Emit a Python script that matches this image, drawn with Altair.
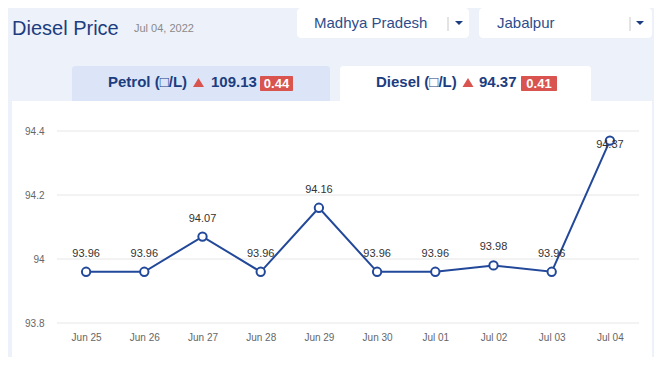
import altair as alt
import pandas as pd

# ---- data ----
dates = ["Jun 25", "Jun 26", "Jun 27", "Jun 28", "Jun 29", "Jun 30", "Jul 01", "Jul 02", "Jul 03", "Jul 04"]
prices = [93.96, 93.96, 94.07, 93.96, 94.16, 93.96, 93.96, 93.98, 93.96, 94.37]
y_ticks = [93.8, 94.0, 94.2, 94.4]

title_text = "Diesel Price"
date_text = "Jul 04, 2022"
state_text = "Madhya Pradesh"
city_text = "Jabalpur"
petrol_label = "Petrol (□/L)"
petrol_price = "109.13"
petrol_change = "0.44"
diesel_label = "Diesel (□/L)"
diesel_price = "94.37"
diesel_change = "0.41"

FONT = "Liberation Sans"
NAVY = "#1c3d80"
LINE = "#22489a"
RED = "#d9534f"
BG = "#edf1fa"

df = pd.DataFrame({"date": dates, "price": prices})
grid_df = pd.DataFrame({"v": y_ticks})
one = pd.DataFrame({"a": [0]})

yscale = alt.Scale(domain=[93.8, 94.4], nice=False, zero=False)
yaxis = alt.Axis(title=None, values=y_ticks, format=".1~f", ticks=False, domain=False,
                 grid=False, zindex=1, labelFont=FONT, labelFontSize=10, labelColor="#666",
                 labelPadding=13)
xenc = alt.X("date:O", sort=dates, scale=alt.Scale(type="point", padding=0.5),
             axis=alt.Axis(title=None, labelAngle=0, ticks=False, domain=False, grid=False, zindex=1,
                           labelFont=FONT, labelFontSize=10, labelColor="#666", labelPadding=9))
yenc = alt.Y("price:Q", scale=yscale, axis=yaxis)

DOWN = "M-1,-0.5L1,-0.5L0,0.5Z"
UP = "M-1,0.8L1,0.8L0,-0.8Z"


def rect(x, x2, y, y2, color, **kw):
    return alt.Chart(one).mark_rect(color=color, **kw).encode(
        x=alt.value(x), x2=alt.value(x2), y=alt.value(y), y2=alt.value(y2))


def text(x, y, t, **kw):
    return alt.Chart(one).mark_text(font=FONT, **kw).encode(
        x=alt.value(x), y=alt.value(y), text=alt.value(t))


def rule(x, y, y2, color):
    return alt.Chart(one).mark_rule(color=color, strokeWidth=1).encode(
        x=alt.value(x), y=alt.value(y), y2=alt.value(y2))


def tri(x, y, shape, color, size):
    return alt.Chart(one).mark_point(shape=shape, filled=True, color=color, size=size, opacity=1,
                                     strokeWidth=0).encode(x=alt.value(x), y=alt.value(y))


# decorations (plot-area pixel coords; plot origin is at page (57,131))
panel = rect(-45, 595, -30, 228, "white")
petrol_tab = rect(15, 273, -65, -30, "#dbe5f7", cornerRadiusTopLeft=3, cornerRadiusTopRight=3)
diesel_tab = rect(283, 534, -65, -30, "white", cornerRadiusTopLeft=3, cornerRadiusTopRight=3)
dd1 = rect(240, 412, -123, -93, "white", cornerRadius=4)
dd2 = rect(422, 595, -123, -93, "white", cornerRadius=4)

title = text(-45, -96, title_text, fontSize=20, color=NAVY, align="left", baseline="alphabetic")
date_lbl = text(77, -99, date_text, fontSize=11, color="#8a8a8a", align="left", baseline="alphabetic")
state = text(257, -103, state_text, fontSize=15, color="#2e4d8c", align="left", baseline="alphabetic")
city = text(440, -103, city_text, fontSize=15, color="#2e4d8c", align="left", baseline="alphabetic")
sep1 = rule(391, -114, -100, "#c8c8c8")
sep2 = rule(573, -114, -100, "#c8c8c8")
arr1 = tri(402, -108, DOWN, NAVY, 64)
arr2 = tri(583, -108, DOWN, NAVY, 64)

p_lbl = text(51, -44, petrol_label, fontSize=15, fontWeight="bold", color=NAVY, align="left", baseline="alphabetic")
p_tri = tri(141.5, -48.5, UP, RED, 121)
p_val = text(154, -44, petrol_price, fontSize=15, fontWeight="bold", color=NAVY, align="left", baseline="alphabetic")
p_badge = rect(203, 236, -55, -40, RED, cornerRadius=1)
p_chg = text(219.5, -43, petrol_change, fontSize=13, fontWeight="bold", color="white", align="center", baseline="alphabetic")

d_lbl = text(319, -44, diesel_label, fontSize=15, fontWeight="bold", color=NAVY, align="left", baseline="alphabetic")
d_tri = tri(411, -48.5, UP, RED, 121)
d_val = text(422, -44, diesel_price, fontSize=15, fontWeight="bold", color=NAVY, align="left", baseline="alphabetic")
d_badge = rect(464, 500, -55, -40, RED, cornerRadius=1)
d_chg = text(482, -43, diesel_change, fontSize=13, fontWeight="bold", color="white", align="center", baseline="alphabetic")

# data layers
grid = alt.Chart(grid_df).mark_rule(color="#e6e6e6", strokeWidth=1).encode(
    y=alt.Y("v:Q", scale=yscale, axis=yaxis),
    x=alt.value(0), x2=alt.value(582))

base = alt.Chart(df).encode(x=xenc, y=yenc)
line = base.mark_line(color=LINE, strokeWidth=2)
pts = base.mark_point(shape="circle", filled=True, fill="white", stroke=LINE, strokeWidth=2,
                      size=70, opacity=1)
labels = base.transform_filter(alt.datum.date != dates[-1]).mark_text(
    font=FONT, fontSize=11, color="#333", dy=-18, baseline="middle").encode(text=alt.Text("price:Q", format=".2f"))
last_label = base.transform_filter(alt.datum.date == dates[-1]).mark_text(
    font=FONT, fontSize=11, color="#333", dy=4, baseline="middle").encode(text=alt.Text("price:Q", format=".2f"))

chart = alt.layer(
    panel, petrol_tab, diesel_tab, dd1, dd2,
    title, date_lbl, state, city, sep1, sep2, arr1, arr2,
    p_lbl, p_tri, p_val, p_badge, p_chg,
    d_lbl, d_tri, d_val, d_badge, d_chg,
    grid, line, pts, labels, last_label,
).resolve_scale(y="shared").properties(
    width=582, height=192,
    autosize=alt.AutoSizeParams(type="none"),
    padding={"left": 49, "top": 123, "right": 15, "bottom": 34},
    background=BG,
).configure_view(stroke=None)

chart.save("out.html", embed_options={"renderer": "svg", "actions": False})
